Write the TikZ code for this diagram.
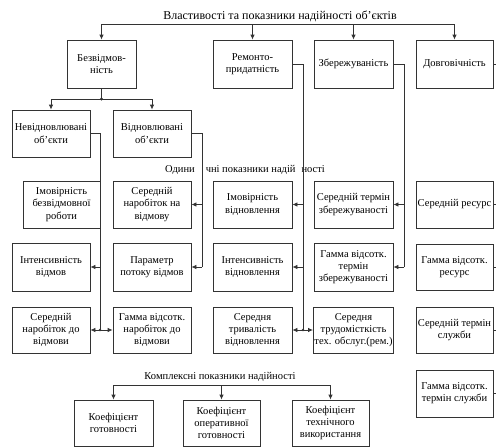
\documentclass[tikz,border=0pt]{standalone}
\usepackage{fontspec}
\setmainfont{Liberation Serif}
\usetikzlibrary{arrows.meta}
\begin{document}
\begin{tikzpicture}[x=1pt,y=-1pt,
  box/.style={draw=black!80, line width=0.8pt, align=center, inner sep=1pt,
    font=\fontsize{10.5}{12.2}\selectfont, text=black},
  ln/.style={draw=black!80, line width=0.8pt},
  arr/.style={ln, -{Latex[length=5pt,width=4.5pt]}},
  darr/.style={ln, {Latex[length=5pt,width=4.5pt]}-{Latex[length=5pt,width=4.5pt]}},
  lbl/.style={inner sep=0pt, text=black}]
\useasboundingbox (0,0) rectangle (496,447);
% title
\node[lbl, font=\fontsize{12}{13}\selectfont] (title) at (280,16.5) {Властивості та показники надійності об'єктів};
% top row
\node[box, minimum width=69pt, minimum height=48pt] (bez) at (101.5,64) {Безвідмов-\\ність};
\node[box, minimum width=79pt, minimum height=48pt] (rem) at (252.5,64) {Ремонто-\\придатність};
\node[box, minimum width=79pt, minimum height=48pt] (zber) at (353.5,64) {Збережуваність};
\node[box, minimum width=77pt, minimum height=48pt] (dov) at (454.5,64) {Довговічність};
% second row
\node[box, minimum width=78pt, minimum height=47pt] (nevid) at (51,133.5) {Невідновлювані\\об'єкти};
\node[box, minimum width=78pt, minimum height=47pt] (vid) at (152,133.5) {Відновлювані\\об'єкти};
% single indices label
\node[lbl, font=\fontsize{10.5}{12}\selectfont] (odyn) at (245,170) {Одини\hspace{11pt}чні показники надій\hspace{6pt}ності};
% rows
\node[box, minimum width=77pt, minimum height=47pt] (imbez) at (61.5,204.5) {Імовірність\\безвідмовної\\роботи};
\node[box, minimum width=78pt, minimum height=47pt] (sernav) at (152,204.5) {Середній\\наробіток на\\відмову};
\node[box, minimum width=79pt, minimum height=47pt] (imvid) at (252.5,204.5) {Імовірність\\відновлення};
\node[box, minimum width=79pt, minimum height=47pt] (serzb) at (353.5,204.5) {Середній термін\\збережуваності};
\node[box, minimum width=77pt, minimum height=47pt] (serres) at (454.5,204.5) {Середній ресурс};

\node[box, minimum width=78pt, minimum height=48pt] (intv) at (51,267) {Інтенсивність\\відмов};
\node[box, minimum width=78pt, minimum height=48pt] (param) at (152,267) {Параметр\\потоку відмов};
\node[box, minimum width=79pt, minimum height=48pt] (intvid) at (252.5,267) {Інтенсивність\\відновлення};
\node[box, minimum width=79pt, minimum height=48pt] (gamzb) at (353.5,267) {Гамма відсотк.\\термін\\збережуваності};
\node[box, minimum width=77pt, minimum height=46pt] (gamres) at (454.5,267) {Гамма відсотк.\\ресурс};

\node[box, minimum width=78pt, minimum height=46pt] (serdo) at (51,330) {Середній\\наробіток до\\відмови};
\node[box, minimum width=78pt, minimum height=46pt] (gamdo) at (152,330) {Гамма відсотк.\\наробіток до\\відмови};
\node[box, minimum width=79pt, minimum height=46pt] (sertr) at (252.5,330) {Середня\\тривалість\\відновлення};
\node[box, minimum width=79pt, minimum height=46pt] (sertrud) at (353.5,330) {Середня\\трудомісткість\\тех. обслуг.(рем.)};
\node[box, minimum width=77pt, minimum height=46pt] (sersl) at (454.5,330) {Середній термін\\служби};

\node[box, minimum width=77pt, minimum height=47pt] (gamsl) at (454.5,393.5) {Гамма відсотк.\\термін служби};

% complex indices
\node[lbl, font=\fontsize{10.5}{12}\selectfont] (kompl) at (220,377) {Комплексні показники надійності};
\node[box, minimum width=79pt, minimum height=46pt] (kgot) at (113.5,423) {Коефіцієнт\\готовності};
\node[box, minimum width=77pt, minimum height=46pt] (kop) at (221.5,423) {Коефіцієнт\\оперативної\\готовності};
\node[box, minimum width=77pt, minimum height=46pt] (ktech) at (330.5,423) {Коефіцієнт\\технічного\\використання};

% coordinates
\coordinate (tl) at (101.5,24);
\coordinate (tr) at (454.5,24);
\coordinate (bj) at (101.5,99);
\coordinate (cl) at (113.5,385);
\coordinate (cr) at (330.5,385);
\coordinate (edge1) at (496,64);
\coordinate (ex) at (496,0);

% title connectors
\draw[ln] (tl) -- (tr);
\draw[arr] (tl) -- (bez.north);
\draw[arr] (rem.north |- tl) -- (rem.north);
\draw[arr] (zber.north |- tl) -- (zber.north);
\draw[arr] (tr) -- (dov.north);

% bez split
\draw[ln] (bez.south) -- (bj);
\fill[black!80] (bj) circle (1.6pt);
\draw[arr] (bj) -| (nevid.north);
\draw[arr] (bj) -| (vid.north);

% nevid column (x=100)
\coordinate (nx) at (100,0);
\draw[ln] (nevid.east) -- (nevid.east -| nx) -- (serdo.east -| nx);
\draw[arr] (intv.east -| nx) -- (intv.east);
\draw[darr] (serdo.east) -- (gamdo.west);
\fill[black!80] (serdo.east -| nx) circle (1.4pt);

% vid column (x=202)
\coordinate (vx) at (202,0);
\draw[ln] (vid.east) -- (vid.east -| vx) -- (param.east -| vx);
\draw[arr] (sernav.east -| vx) -- (sernav.east);
\draw[arr] (param.east -| vx) -- (param.east);

% rem column (x=303)
\coordinate (rx) at (303,0);
\draw[ln] (rem.east) -- (rem.east -| rx) -- (sertr.east -| rx);
\draw[arr] (imvid.east -| rx) -- (imvid.east);
\draw[arr] (intvid.east -| rx) -- (intvid.east);
\draw[darr] (sertr.east) -- (sertrud.west);
\fill[black!80] (sertr.east -| rx) circle (1.4pt);

% zber column (x=404)
\coordinate (zx) at (404,0);
\draw[ln] (zber.east) -- (zber.east -| zx) -- (gamzb.east -| zx);
\draw[arr] (serzb.east -| zx) -- (serzb.east);
\draw[arr] (gamzb.east -| zx) -- (gamzb.east);

% dov column (edge)
\draw[ln] (dov.east) -- (edge1);
\draw[ln] (serres.east) -- (serres.east -| ex);
\draw[ln] (gamres.east) -- (gamres.east -| ex);
\draw[ln] (sersl.east) -- (sersl.east -| ex);
\draw[ln] (gamsl.east) -- (gamsl.east -| ex);

% complex connectors
\draw[ln] (cl) -- (cr);
\draw[arr] (cl) -- (kgot.north);
\draw[arr] (kop.north |- cl) -- (kop.north);
\draw[arr] (cr) -- (ktech.north);
\end{tikzpicture}
\end{document}
